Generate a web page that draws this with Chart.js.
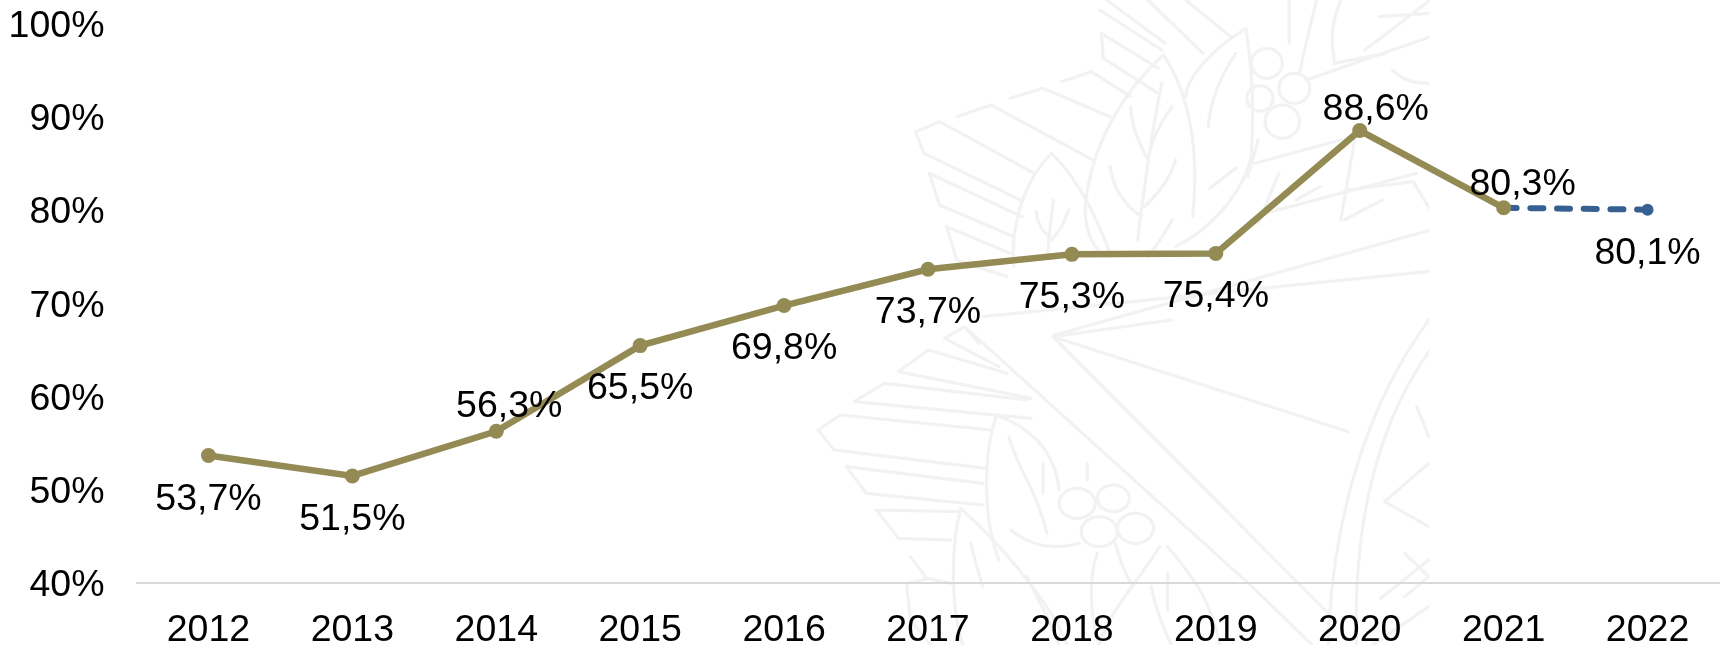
<!DOCTYPE html>
<html>
<head>
<meta charset="utf-8">
<style>
  html, body { margin: 0; padding: 0; background: #fff; }
  #wrap { position: relative; width: 1723px; height: 645px; overflow: hidden; }
  #mark { position: absolute; left: 0; top: 0; }
  #mark * { vector-effect: non-scaling-stroke; }
  #chart { position: absolute; left: 0; top: 0; }
</style>
<script src="https://cdn.jsdelivr.net/npm/chart.js@4"></script>
</head>
<body>
<div id="wrap">
  <!-- faint emblem behind the chart -->
  <svg id="mark" width="1723" height="645">
    <defs><clipPath id="cut"><rect x="0" y="0" width="1429.5" height="645"/></clipPath></defs>
    <g clip-path="url(#cut)" fill="none" stroke="#f2f2f2" stroke-width="3.2" stroke-linejoin="round" stroke-linecap="round">
      <g transform="translate(900,0) scale(0.3444,0.3333)">
        <path d="M45,395 L115,365 L390,520 M45,395 L70,460 L350,600 M165,350 L265,315 L560,480 M320,295 L415,265 L610,350 M470,245 L555,215 L670,290 M85,520 L115,615 L330,710 M85,520 L355,650 M135,680 L165,780 L310,830 M135,680 L320,760"/>
        <path d="M585,100 L590,175 L750,280 M585,100 L750,205 M580,30 L760,150 M600,0 L770,130 M720,0 L880,160 M830,0 L960,110"/>
        <path d="M765,165 C650,270 560,430 540,600 C530,680 560,760 610,770 M765,165 C840,280 870,450 850,650 M1005,85 C900,150 830,240 830,290 M1005,85 C1020,200 1030,300 1020,470 C990,600 880,700 800,740 M440,460 C360,540 320,680 330,800 M440,460 C530,550 580,680 610,760"/>
        <path d="M760,250 C730,400 710,550 690,720 M670,320 C670,380 700,440 715,470 M790,320 C750,380 730,420 720,480 M610,500 C620,570 660,620 700,650 M800,480 C780,550 740,590 710,620 M790,660 C770,700 750,730 720,770 M445,600 C440,650 430,720 430,760 M395,635 C400,680 420,700 435,710 M490,630 L470,680 L440,720 M975,160 C930,230 900,300 895,380 M900,565 L975,505"/>
        <circle cx="1065" cy="190" r="45"/>
        <circle cx="1045" cy="295" r="38"/>
        <circle cx="1145" cy="265" r="45"/>
        <circle cx="1110" cy="365" r="50"/>
        <path d="M1130,0 L1130,130 M1210,0 C1190,80 1170,170 1160,220 M1280,0 C1240,100 1260,150 1260,180 M1350,150 L1540,0 M1260,190 L1410,160 M1540,40 L1390,50 M1180,240 L1540,110 M1430,210 C1470,250 1510,250 1540,250"/>
        <path d="M1040,420 L1010,530 M1030,490 L1280,420 M1320,420 L1280,660 M1100,520 L1040,670 M1500,520 L1060,640 M1300,570 L1490,545 L1540,630 M1150,600 L1220,560 M1290,660 L1400,600 M1540,690 L449,1005 M1537,814 L241,950"/>
      </g>
      <g transform="translate(810,320) scale(0.4018,0.3333)">
        <path d="M605,50 L1340,335 M605,50 L1290,880 M385,20 L1100,800 L1250,975 M605,50 L900,0 M1540,0 C1400,230 1300,560 1290,975 M1568,50 C1430,260 1350,560 1360,975"/>
        <path d="M335,55 L385,20 L420,70 M335,55 L470,140 M220,155 L295,90 L490,160 M220,155 L550,235 M110,245 L185,190 L540,240 M110,245 L550,295 M20,330 L75,285 L450,330 M20,330 L60,390 L440,445 M90,440 L140,520 L430,555 M90,440 L430,490 M165,570 L220,655 L350,660 M165,570 L370,575 M250,710 L290,775 L350,790"/>
        <path d="M465,285 C430,400 430,600 470,720 M465,285 C560,330 610,400 620,510 M375,565 C350,680 350,860 380,975 M375,565 C480,680 600,850 640,975 M495,350 C510,430 560,500 590,640 M580,430 L580,520 M500,630 C550,680 610,690 670,670 M400,670 C410,720 420,760 430,800 M690,430 L690,480"/>
        <circle cx="665" cy="550" r="45"/>
        <circle cx="755" cy="535" r="40"/>
        <circle cx="720" cy="635" r="45"/>
        <circle cx="810" cy="625" r="45"/>
        <path d="M715,700 C690,780 700,900 720,975 M760,670 C780,760 800,790 800,790 M870,680 C820,780 740,880 720,975 M890,760 L890,870 M890,680 C960,780 1000,850 1020,975 M850,800 C860,880 900,975 900,975 M540,770 C570,850 600,900 620,975 M240,790 L250,900 L300,975 M240,790 L300,775"/>
        <path d="M1510,260 L1540,350 M1430,545 L1540,430 M1430,545 L1540,620 M1480,700 L1540,770 M1480,830 L1540,770 M1420,835 L1540,720 M1400,975 L1540,860"/>
      </g>
    </g>
  </svg>
  <!-- a bit wider than the page: the layout keeps a right margin that padding can't remove -->
  <canvas id="chart" width="1727" height="645"></canvas>
</div>
<script>
const years = ['2012', '2013', '2014', '2015', '2016', '2017', '2018', '2019', '2020', '2021', '2022'];
const realized = [53.7, 51.5, 56.3, 65.5, 69.8, 73.7, 75.3, 75.4, 88.6, 80.3, null];
const projected = [null, null, null, null, null, null, null, null, null, 80.3, 80.1];
const yTicks = [40, 50, 60, 70, 80, 90, 100];

const FONT = '"Liberation Sans", Arial, sans-serif';

// label offsets from the point, per year
const realizedOffsets = [[0, 44.5], [0, 43.5], [13, -25], [0, 43.5], [0, 43.5], [0, 43.5], [0, 43.5], [0, 43.5], [16, -21], [19, -23]];
const projectedOffsets = { 10: [0, 43.5] };

const pointLabels = {
  id: 'pointLabels',
  afterDatasetsDraw(chart) {
    const ctx = chart.ctx;
    ctx.save();
    ctx.font = '37.5px ' + FONT;
    ctx.fillStyle = '#000';
    ctx.textAlign = 'center';
    ctx.textBaseline = 'middle';
    const draw = (datasetIndex, values, offsets) => {
      chart.getDatasetMeta(datasetIndex).data.forEach((pt, i) => {
        if (!offsets[i] || values[i] === null) return;
        const text = values[i].toFixed(1).replace('.', ',') + '%';
        ctx.fillText(text, pt.x + offsets[i][0], pt.y + offsets[i][1]);
      });
    };
    draw(0, realized, realizedOffsets);
    draw(1, projected, projectedOffsets);
    ctx.restore();
  },
};

new Chart(document.getElementById('chart'), {
  type: 'line',
  data: {
    labels: years,
    datasets: [
      {
        data: realized,
        borderColor: '#948A54',
        backgroundColor: '#948A54',
        borderWidth: 6.5,
        pointRadius: 7.5,
        pointHoverRadius: 7.5,
        pointBorderWidth: 0,
        tension: 0,
      },
      {
        data: projected,
        borderColor: '#376092',
        backgroundColor: '#376092',
        borderWidth: 6,
        borderDash: [13, 13.7],
        borderCapStyle: 'round',
        pointRadius: years.map((y, i) => (i === 10 ? 6 : 0)),
        pointBorderWidth: 0,
        tension: 0,
      },
    ],
  },
  options: {
    responsive: false,
    animation: false,
    layout: { padding: { top: 24.4, right: 3, left: 0, bottom: 0 } },
    plugins: { legend: { display: false }, tooltip: { enabled: false } },
    scales: {
      x: {
        offset: true,
        grid: { display: false },
        border: { color: '#D9D9D9', width: 2 },
        ticks: { color: '#000', font: { family: FONT, size: 37.5 }, padding: 17, maxRotation: 0, autoSkip: false },
        afterFit(scale) { scale.height = 62; scale.paddingLeft = 0; scale.paddingRight = 0; },
      },
      y: {
        min: 40,
        max: 100,
        grid: { display: false },
        border: { display: false },
        afterBuildTicks(scale) { scale.ticks = yTicks.map((v) => ({ value: v })); },
        // empty first line + short line height nudges the text 2.5px down
        ticks: { color: '#000', font: { family: FONT, size: 37.5, lineHeight: '5px' }, padding: 24, callback: (v) => ['', v + '%'] },
        afterFit(scale) { scale.width = 136.5; scale.paddingTop = 0; scale.paddingBottom = 0; },
      },
    },
  },
  plugins: [pointLabels],
});
</script>
</body>
</html>
